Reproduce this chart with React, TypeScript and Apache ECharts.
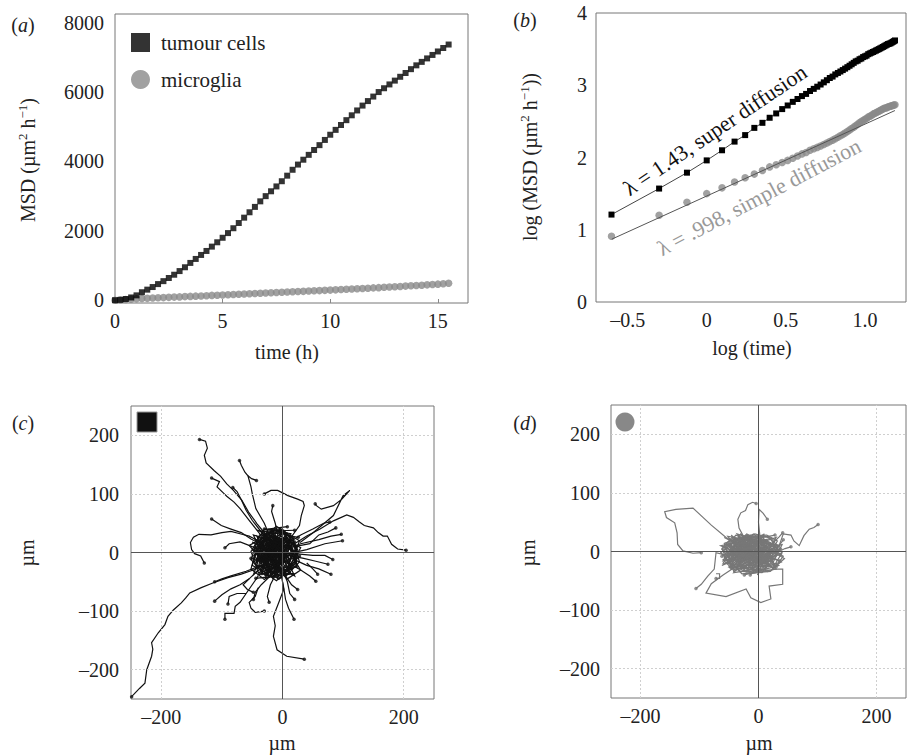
import React, { useEffect, useRef } from "react";
import * as echarts from "echarts";

// ---------- Panel (a): MSD vs time ----------
const times = [0, 0.25, 0.5, 0.75, 1, 1.25, 1.5, 1.75, 2, 2.25, 2.5, 2.75, 3, 3.25, 3.5, 3.75, 4, 4.25, 4.5, 4.75, 5, 5.25, 5.5, 5.75, 6, 6.25, 6.5, 6.75, 7, 7.25, 7.5, 7.75, 8, 8.25, 8.5, 8.75, 9, 9.25, 9.5, 9.75, 10, 10.25, 10.5, 10.75, 11, 11.25, 11.5, 11.75, 12, 12.25, 12.5, 12.75, 13, 13.25, 13.5, 13.75, 14, 14.25, 14.5, 14.75, 15, 15.25, 15.5];
const tumourMSD = [0, 10, 35, 80, 140, 230, 305, 380, 465, 550, 640, 735, 840, 950, 1075, 1190, 1305, 1420, 1545, 1670, 1800, 1935, 2075, 2225, 2380, 2535, 2690, 2850, 3000, 3140, 3280, 3430, 3590, 3760, 3910, 4050, 4190, 4330, 4470, 4620, 4770, 4910, 5050, 5190, 5330, 5470, 5610, 5740, 5870, 6000, 6110, 6220, 6330, 6440, 6550, 6660, 6770, 6870, 6970, 7070, 7170, 7270, 7370];
const microMSD = [0, 12, 22, 31, 40, 48, 54, 62, 69, 75, 83, 90, 96, 104, 110, 118, 124, 130, 139, 145, 152, 160, 166, 172, 181, 187, 193, 201, 208, 214, 222, 229, 235, 243, 250, 256, 264, 271, 277, 285, 292, 299, 308, 315, 324, 331, 340, 347, 356, 363, 372, 380, 389, 397, 407, 415, 425, 434, 443, 452, 463, 476, 490];
const aXTicks = [0, 5, 10, 15];
const aYTicks = [0, 2000, 4000, 6000, 8000];

// ---------- Panel (b): log-log ----------
const tumourLogMSD = [1.21, 1.57, 1.79, 1.96, 2.10, 2.22, 2.31, 2.41, 2.48, 2.55, 2.61, 2.67, 2.72, 2.77, 2.81, 2.85, 2.88, 2.92, 2.95, 2.98, 3.01, 3.04, 3.07, 3.10, 3.12, 3.15, 3.17, 3.19, 3.21, 3.23, 3.25, 3.27, 3.29, 3.31, 3.33, 3.34, 3.36, 3.37, 3.39, 3.40, 3.41, 3.43, 3.44, 3.45, 3.46, 3.47, 3.48, 3.49, 3.50, 3.51, 3.52, 3.53, 3.54, 3.55, 3.56, 3.57, 3.575, 3.58, 3.59, 3.60, 3.61, 3.62];
const microLogMSD = [0.91, 1.20, 1.38, 1.50, 1.58, 1.66, 1.72, 1.77, 1.82, 1.87, 1.90, 1.93, 1.96, 1.99, 2.02, 2.05, 2.07, 2.10, 2.12, 2.14, 2.16, 2.18, 2.20, 2.22, 2.24, 2.26, 2.28, 2.30, 2.32, 2.34, 2.36, 2.38, 2.40, 2.42, 2.44, 2.46, 2.48, 2.50, 2.51, 2.53, 2.54, 2.56, 2.57, 2.58, 2.60, 2.61, 2.62, 2.63, 2.64, 2.65, 2.66, 2.67, 2.68, 2.685, 2.69, 2.70, 2.705, 2.71, 2.715, 2.72, 2.725, 2.73];
const microFitX = [-0.6, 1.19];
const microFitY = [0.87, 2.65];
const bXTicks = [-0.5, 0, 0.5, 1];
const bYTicks = [0, 1, 2, 3, 4];

// ---------- Panels (c), (d): trajectories (µm) ----------
const trackTicksX = [-200, 0, 200];
const trackTicksY = [-200, -100, 0, 100, 200];
const gridX = [-200, 200];
const gridY = [-200, -100, 100, 200];

const tumourTracks: number[][][] = [
  [[-6, -4], [-26, -17], [-46, -29], [-68, -37], [-90, -43], [-115, -52], [-134, -60], [-153, -69], [-160, -78], [-167, -86], [-180, -98], [-189, -109], [-194, -123], [-205, -137], [-216, -154], [-214, -165], [-216, -177], [-224, -200], [-227, -223], [-236, -232], [-249, -246]],
  [[5, 8], [20, 15], [40, 28], [62, 40], [84, 54], [97, 60], [106, 64], [117, 60], [127, 52], [135, 46], [150, 42], [158, 34], [166, 28], [173, 28], [180, 14], [190, 6], [204, 4]],
  [[-9, 11], [-26, 29], [-42, 49], [-56, 69], [-67, 89], [-81, 106], [-92, 117], [-102, 130], [-113, 140], [-126, 153], [-129, 166], [-124, 178], [-127, 190], [-137, 193]],
  [[-12, 8], [-20, 25], [-30, 50], [-44, 75], [-50, 101], [-52, 112], [-57, 131], [-62, 137], [-68, 149], [-71, 157]],
  [[-57, 131], [-51, 126], [-43, 123]],
  [[29, 17], [51, 34], [68, 49], [84, 63], [92, 80], [100, 97], [111, 106], [98, 91], [84, 80], [64, 74], [56, 80], [54, 83]],
  [[-35, 14], [-52, 23], [-68, 34], [-85, 40], [-101, 46], [-117, 57]],
  [[-25, 12], [-40, 20], [-55, 28], [-70, 32], [-85, 36], [-100, 34], [-118, 30], [-138, 31], [-147, 26], [-152, 17], [-150, 5], [-145, -2], [-135, -6], [-133, -10], [-129, -18]],
  [[-25, 15], [-40, 35], [-55, 55], [-70, 75], [-80, 86], [-92, 96], [-96, 100], [-108, 112], [-104, 121], [-117, 127]],
  [[-20, 18], [-35, 35], [-50, 55], [-60, 72], [-68, 90], [-75, 104], [-82, 111]],
  [[10, 20], [28, 46], [31, 63], [36, 80], [34, 87], [25, 91], [9, 97], [-8, 106], [-19, 106], [-30, 100]],
  [[-8, 30], [-12, 50], [-18, 70], [-16, 80]],
  [[5, 5], [30, 15], [60, 22], [80, 28], [97, 31]],
  [[10, -2], [40, 5], [70, 15], [99, 20]],
  [[0, 10], [30, 30], [50, 40], [68, 50], [78, 52]],
  [[10, -5], [35, -10], [55, -15], [75, -20]],
  [[15, -10], [40, -22], [60, -28], [80, -37]],
  [[20, -2], [50, -5], [70, -5], [83, -12]],
  [[5, -15], [30, -30], [45, -40], [55, -49]],
  [[40, -18], [50, -28], [58, -37]],
  [[0, -20], [5, -40], [15, -55], [25, -63]],
  [[0, -30], [8, -50], [12, -70], [20, -80]],
  [[-2, -40], [2, -60], [5, -80], [10, -95], [19, -114]],
  [[0, -50], [2, -63], [-6, -85], [-15, -109], [-12, -125], [-15, -143], [-9, -166], [7, -177], [36, -182]],
  [[-40, -30], [-55, -45], [-70, -55], [-85, -62], [-100, -72], [-112, -83]],
  [[-40, -40], [-50, -55], [-60, -70], [-70, -85], [-78, -92], [-80, -104], [-95, -104], [-95, -114]],
  [[-40, -60], [-45, -75], [-55, -85], [-52, -95], [-45, -102], [-30, -100]],
  [[-60, -70], [-75, -70], [-88, -75], [-90, -88]],
  [[-55, -45], [-65, -55], [-58, -63], [-48, -68]],
  [[-20, -40], [-35, -55], [-45, -68], [-48, -80]],
  [[-10, -35], [-20, -55], [-25, -75], [-22, -85]],
  [[-30, -20], [-60, -32], [-85, -40], [-100, -45], [-112, -50]],
  [[20, 10], [45, 15], [60, 30], [75, 35], [88, 42]],
  [[-30, 5], [-50, 10], [-70, 18], [-88, 15], [-95, 8]],
  [[-8, 0], [-20, 12], [-5, 25], [10, 8], [-15, -10], [-30, 5], [-12, 30], [5, -15], [-25, -25], [-40, -5], [-18, 18], [0, 35], [15, 15], [-5, -30], [-35, 20]],
  [[-10, 5], [8, 20], [20, -5], [-2, -20], [-22, -8], [-38, 15], [-20, 35], [2, 12], [-15, -35], [-45, -20], [-28, 0], [12, 28], [25, 5], [0, -5], [-12, 22]],
  [[-5, -5], [-30, -15], [-15, 8], [-42, 28], [-25, -40], [8, -28], [18, 12], [-2, 38], [-30, 40], [-50, 5], [-20, -5], [5, 25], [22, -18], [-10, -48], [-35, -30]],
  [[0, 0], [15, -25], [-8, -42], [-28, -20], [-48, -38], [-38, -8], [-55, 12], [-32, 25], [-10, 45], [12, 30], [28, 20], [18, -10], [30, -30], [8, -45], [-18, -20]],
  [[-12, -2], [-2, 18], [-26, 22], [-18, -16], [6, -8], [-8, 12], [-35, -12], [-22, 6], [4, 4], [-14, -28], [-30, 32], [-6, -12], [14, 22], [-40, 10], [-4, 40]],
  [[-6, 8], [-16, -6], [6, -2], [-10, -20], [-24, 14], [-2, 28], [18, 2], [-20, -30], [-42, 0], [-8, -6], [10, -32], [-28, -44], [-12, 10], [-36, 36], [20, 38]],
  [[-15, 3], [-28, -30], [-6, -22], [12, -12], [-4, 6], [-22, -4], [-10, 26], [-32, 10], [-16, -12], [2, -38], [24, -2], [-8, 18], [-44, -18], [-24, 40], [8, 44]],
  [[-3, -10], [-18, 8], [-36, -4], [-14, -36], [14, -20], [30, 8], [10, 20], [-20, 2], [-46, 24], [-26, -12], [-4, 14], [-16, 38], [20, -40], [-2, -26], [-52, -10]],
  [[-20, -5], [-8, 10], [-28, 28], [-40, -26], [-12, -14], [6, 14], [-14, 4], [-30, -18], [-6, -4], [16, -6], [-24, 18], [-10, -26], [4, -14], [-18, 30], [-34, -36]],
  [[-10, -10], [-4, 2], [-18, -6], [-8, 16], [-26, 10], [-14, -22], [2, -4], [-12, 8], [-22, -14], [-2, -18], [8, 6], [-16, 20], [-30, -8], [-6, 26], [-20, -32]],
  [[-20, 10], [-38, -22], [-8, -38], [16, -28], [26, 0], [8, 32], [-24, 34], [-46, 12], [-30, -32], [2, -16], [-16, 24], [12, -2], [-36, -6], [-22, -42], [20, 18]],
  [[-14, -6], [-44, -14], [-26, 30], [4, 36], [22, -12], [-4, -44], [-40, -34], [-52, 2], [-32, 18], [-6, 2], [14, -36], [-18, -18], [-2, 22], [-42, 38], [26, 26]],
  [[-4, 4], [-24, -36], [-50, -22], [-36, 22], [-12, 40], [16, 26], [28, -16], [6, -40], [-20, -24], [-44, -2], [-26, 14], [0, -10], [-16, -44], [-48, 30], [10, 10]],
  [[-18, 0], [0, -32], [24, -24], [18, 24], [-8, 38], [-38, 30], [-52, -12], [-28, -40], [-4, -18], [-30, 8], [-10, -8], [8, 34], [-34, -24], [-6, -46], [28, -6]],
  [[-26, -8], [-6, -28], [-30, -46], [-52, -28], [-42, 10], [-20, 28], [6, 22], [24, 10], [10, -20], [-14, -4], [-36, 16], [-16, 36], [-2, -36], [20, -36], [-44, -44]],
  [[-8, -16], [-34, 2], [-20, -34], [10, -24], [18, 4], [-4, 30], [-28, 22], [-48, -6], [-18, 12], [6, -4], [-24, -12], [-40, -38], [-10, -32], [14, 32], [-30, 40]],
  [[-16, 14], [4, -6], [-22, -26], [-46, -8], [-28, 26], [-2, 12], [-12, -40], [12, -14], [-8, 26], [-38, -18], [-20, -2], [2, 38], [24, -26], [-50, 18], [-12, 0]],
  [[-2, 0], [-20, 20], [-40, -10], [-14, -24], [10, -8], [-6, 14], [-32, -28], [-24, 4], [-4, -12], [-34, 30], [16, 14], [-18, -38], [-44, 6], [0, 24], [-26, -18]],
];

const microTracks: number[][][] = [
  [[-20, 5], [-55, 24], [-80, 45], [-111, 74], [-140, 72], [-159, 68], [-156, 58], [-142, 49], [-138, 32], [-137, 12], [-128, 1], [-111, -3], [-97, -2]],
  [[-10, 10], [-25, 25], [-33, 40], [-35, 55], [-30, 66], [-22, 70], [-18, 80], [-10, 84], [-4, 82]],
  [[0, 10], [2, 30], [0, 50], [1, 72], [8, 65], [15, 55]],
  [[10, 0], [25, 5], [35, 10], [42, 30], [55, 28], [60, 18], [69, 10], [77, 27], [86, 38], [94, 41], [101, 46]],
  [[-40, -5], [-60, -5], [-72, -2], [-75, -30], [-86, -42], [-97, -56], [-106, -63]],
  [[-72, -38], [-66, -38], [-66, -46], [-72, -46]],
  [[-30, -20], [-60, -40], [-80, -55], [-89, -71], [-55, -77], [-21, -64], [-13, -79], [4, -87], [21, -81], [18, -59], [41, -56], [41, -30], [27, -30], [15, -20]],
  [[10, 5], [25, 15], [35, 25], [41, 32]],
  [[15, -5], [30, -2], [45, 5], [55, 8]],
  [[-10, 0], [-30, 12], [-50, -5], [-25, -20], [5, -8], [20, 15], [-5, 25], [-40, 18], [-60, 2], [-35, -30], [0, -25], [30, -5], [10, 20], [-20, 5], [-45, -15]],
  [[-5, -5], [15, -20], [35, 0], [20, 22], [-12, 15], [-38, 28], [-55, 10], [-48, -22], [-20, -35], [8, -30], [25, -18], [40, 12], [5, 5], [-28, -8], [-15, 22]],
  [[-20, 2], [-42, -8], [-30, 20], [-8, 30], [12, 10], [-2, -15], [-25, -28], [-52, -18], [-62, 5], [-44, 25], [-16, 8], [4, -22], [28, -28], [42, -8], [18, 4]],
  [[0, 0], [-18, -12], [-36, 8], [-58, -10], [-40, -32], [-10, -18], [16, -10], [32, 18], [14, 28], [-22, 26], [-48, 12], [-30, -4], [-6, 12], [22, -2], [-14, -40]],
  [[-15, -8], [6, 6], [-26, 14], [-44, 0], [-24, -14], [-2, -2], [-34, -22], [-12, 18], [10, -16], [-54, -4], [-20, 30], [26, 8], [-8, -28], [-46, 20], [36, -16]],
  [[-8, 4], [-22, -6], [2, -12], [-12, 24], [-32, 4], [-16, -24], [12, -4], [-4, 14], [-40, -12], [-28, 22], [18, -22], [-56, 14], [-6, -36], [30, 24], [-62, -8]],
  [[-12, -4], [-34, 14], [-14, -16], [8, 14], [-24, -30], [-46, 6], [-4, 20], [24, -12], [-30, -10], [-10, 6], [-50, -26], [14, -34], [-36, 30], [40, 4], [-18, -2]],
  [[-2, -8], [-28, -16], [-48, 8], [-18, 12], [10, 0], [-6, -22], [-38, -2], [-22, 24], [4, 26], [26, -24], [-44, -30], [-60, -14], [-26, 6], [-8, -30], [12, 18]],
  [[-20, -10], [-58, 8], [-40, -26], [10, -20], [38, 6], [14, 26], [-30, 24], [-64, -2], [-28, -38], [20, -34], [44, -12], [0, 14], [-48, -14], [-14, 28], [30, -26]],
  [[-6, 6], [-46, -4], [-22, -34], [24, -14], [8, 24], [-36, 16], [-60, -20], [-8, -24], [36, 10], [-18, 20], [-52, 26], [-26, -6], [16, -2], [-2, -40], [42, 20]],
  [[-30, 0], [-10, -30], [22, -32], [40, -2], [18, 16], [-20, 28], [-58, 14], [-42, -34], [2, -12], [-24, 10], [-50, -28], [12, 8], [-12, -14], [-64, 10], [28, 28]],
  [[-14, 12], [-54, -16], [-30, -34], [6, -36], [30, -8], [24, 22], [-6, 30], [-44, 8], [-20, -18], [12, -20], [-36, -10], [-4, -2], [-58, 24], [34, -24], [-24, -40]],
  [[-2, -14], [-28, 18], [-52, 0], [-34, -24], [-2, -34], [20, -4], [6, 28], [-26, -14], [-46, 28], [10, -26], [38, -18], [-16, 6], [-62, -24], [26, 14], [-40, 20]],
  [[-24, 6], [-6, -20], [-40, 4], [-16, 24], [14, -10], [-30, -28], [0, 18], [-56, -8], [-20, -6], [18, -24], [-10, 10], [-48, -30], [32, 2], [-34, 26], [4, -6]],
  [[8, 2], [-18, -28], [-46, -12], [-22, 16], [20, -18], [-8, -8], [-38, 22], [-62, 4], [-30, -20], [4, 22], [30, -30], [-14, -38], [-50, 14], [14, 14], [-26, 2]],
  [[-36, -4], [-12, 16], [16, -26], [-20, -22], [-48, 6], [2, 4], [-30, 30], [-60, -16], [22, 2], [-4, -30], [-42, -36], [10, 30], [-22, 8], [40, -4], [-8, -18]],
];

const SERIF = "Liberation Serif, Times New Roman, DejaVu Serif, serif";
const INK = "#222";
const GREY = "#8a8a8a";

const minusFmt = (v: number) => (v < 0 ? "\u2013" + Math.abs(v) : String(v));

function valueAxis(gridIndex: number, min: number, max: number, ticks: number[], position: string, opts: any = {}) {
  return {
    type: "value",
    gridIndex,
    position,
    min,
    max,
    axisLine: { show: false, onZero: false },
    axisTick: {
      show: opts.ticks !== false,
      inside: true,
      length: 4,
      customValues: ticks,
      lineStyle: { color: "#888" },
    },
    axisLabel: {
      customValues: ticks,
      fontFamily: SERIF,
      fontSize: 20,
      color: INK,
      margin: opts.margin ?? 10,
      formatter: opts.formatter ?? minusFmt,
    },
    splitLine: { show: false },
    minorTick: { show: false },
    minorSplitLine: { show: false },
    axisPointer: { show: false },
  };
}

const richBase = {
  n: { fontSize: 20, fontFamily: SERIF, fill: INK },
  s: { fontSize: 13, fontFamily: SERIF, fill: INK, padding: [0, 0, 11, 0] },
  i: { fontSize: 20, fontFamily: SERIF, fill: INK, fontStyle: "italic" },
};

function labelText(x: number, y: number, text: string, rotation = 0) {
  return {
    type: "text",
    x,
    y,
    rotation,
    silent: true,
    style: {
      text,
      fill: INK,
      align: "center",
      verticalAlign: "middle",
      fontFamily: SERIF,
      fontSize: 20,
      rich: richBase,
    },
  };
}

function gridLines() {
  return [
    ...gridX.map((v) => ({ xAxis: v, lineStyle: { type: [2, 2], color: "#cfcfcf", width: 1 } })),
    ...gridY.map((v) => ({ yAxis: v, lineStyle: { type: [2, 2], color: "#cfcfcf", width: 1 } })),
    { xAxis: 0, lineStyle: { type: "solid", color: "#555", width: 1 } },
    { yAxis: 0, lineStyle: { type: "solid", color: "#555", width: 1 } },
  ];
}

export default function App() {
  const ref = useRef<HTMLDivElement>(null);
  useEffect(() => {
    document.body.style.margin = "0";
    if (!ref.current) return;
    const chart = echarts.init(ref.current, null, { renderer: "svg" });
    const logTimes = times.slice(1).map((t) => Math.log10(t));

    const option: any = {
      animation: false,
      backgroundColor: "#fff",
      textStyle: { fontFamily: SERIF },
      grid: [
        { left: 115, top: 14, width: 353, height: 289, show: true, borderColor: "#777", borderWidth: 1 },
        { left: 596, top: 13, width: 310, height: 289, show: true, borderColor: "#777", borderWidth: 1 },
        { left: 131, top: 406, width: 303, height: 293, show: true, borderColor: "#777", borderWidth: 1 },
        { left: 611, top: 405, width: 295, height: 293, show: true, borderColor: "#777", borderWidth: 1 },
      ],
      xAxis: [
        valueAxis(0, 0, 16.4, aXTicks, "bottom", { margin: 8 }),
        valueAxis(1, -0.7, 1.26, bXTicks, "bottom", { margin: 8, ticks: false, formatter: (v: number) => (v < 0 ? "\u2013" + Math.abs(v) : v === 1 ? "1.0" : String(v)) }),
        valueAxis(2, -250, 250, trackTicksX, "bottom", { margin: 8, ticks: false }),
        valueAxis(3, -250, 250, trackTicksX, "bottom", { margin: 8, ticks: false }),
      ],
      yAxis: [
        valueAxis(0, -80, 8250, aYTicks, "left", { margin: 11, ticks: false }),
        valueAxis(1, 0, 4, bYTicks, "left", { margin: 9, ticks: false }),
        valueAxis(2, -250, 250, trackTicksY, "left", { margin: 12, ticks: false }),
        valueAxis(3, -250, 250, trackTicksY, "left", { margin: 11, ticks: false }),
      ],
      legend: {
        data: ["tumour cells", "microglia"],
        orient: "vertical",
        left: 126,
        top: 27,
        itemWidth: 19,
        itemHeight: 19,
        itemGap: 16,
        selectedMode: false,
        textStyle: { fontFamily: SERIF, fontSize: 21, color: INK, padding: [0, 0, 0, 6] },
      },
      series: [
        {
          name: "tumour cells",
          type: "scatter",
          xAxisIndex: 0,
          yAxisIndex: 0,
          symbol: "rect",
          symbolSize: 6,
          itemStyle: { color: "#000" },
          data: times.map((t, i) => [t, tumourMSD[i]]),
          z: 3,
        },
        {
          name: "microglia",
          type: "scatter",
          xAxisIndex: 0,
          yAxisIndex: 0,
          symbol: "circle",
          symbolSize: 7.5,
          itemStyle: { color: GREY },
          data: times.map((t, i) => [t, microMSD[i]]),
          z: 2,
        },
        {
          name: "tumour log",
          type: "line",
          xAxisIndex: 1,
          yAxisIndex: 1,
          symbol: "rect",
          symbolSize: 6,
          showSymbol: true,
          itemStyle: { color: "#000" },
          lineStyle: { color: "#444", width: 1 },
          data: logTimes.map((x, i) => [x, tumourLogMSD[i]]),
          z: 3,
        },
        {
          name: "microglia log",
          type: "scatter",
          xAxisIndex: 1,
          yAxisIndex: 1,
          symbol: "circle",
          symbolSize: 7.5,
          itemStyle: { color: GREY },
          data: logTimes.map((x, i) => [x, microLogMSD[i]]),
          z: 2,
        },
        {
          name: "microglia fit",
          type: "line",
          xAxisIndex: 1,
          yAxisIndex: 1,
          symbol: "none",
          lineStyle: { color: "#555", width: 1 },
          data: microFitX.map((x, i) => [x, microFitY[i]]),
          z: 4,
        },
        {
          name: "tumour ends",
          type: "scatter",
          xAxisIndex: 2,
          yAxisIndex: 2,
          symbol: "circle",
          symbolSize: 3.5,
          itemStyle: { color: "#111" },
          data: tumourTracks.map((t) => t[t.length - 1]),
          markLine: { silent: true, symbol: ["none", "none"], label: { show: false }, data: gridLines() },
          z: 1,
        },
        {
          name: "tumour tracks",
          type: "lines",
          coordinateSystem: "cartesian2d",
          xAxisIndex: 2,
          yAxisIndex: 2,
          polyline: true,
          silent: true,
          lineStyle: { color: "#111", width: 1.2, opacity: 1 },
          data: tumourTracks.map((t) => ({ coords: t })),
          z: 2,
        },
        {
          name: "microglia ends",
          type: "scatter",
          xAxisIndex: 3,
          yAxisIndex: 3,
          symbol: "circle",
          symbolSize: 3.5,
          itemStyle: { color: "#777" },
          data: microTracks.map((t) => t[t.length - 1]),
          markLine: { silent: true, symbol: ["none", "none"], label: { show: false }, data: gridLines() },
          z: 1,
        },
        {
          name: "microglia tracks",
          type: "lines",
          coordinateSystem: "cartesian2d",
          xAxisIndex: 3,
          yAxisIndex: 3,
          polyline: true,
          silent: true,
          lineStyle: { color: "#777", width: 1.2, opacity: 1 },
          data: microTracks.map((t) => ({ coords: t })),
          z: 2,
        },
      ],
      graphic: [
        labelText(23, 25, "{n|(}{i|a}{n|)}"),
        labelText(525, 20, "{n|(}{i|b}{n|)}"),
        labelText(23, 423, "{n|(}{i|c}{n|)}"),
        labelText(525, 423, "{n|(}{i|d}{n|)}"),
        labelText(28, 160, "{n|MSD (µm}{s|2}{n| h}{s|\u22121}{n|)}", Math.PI / 2),
        labelText(287, 352, "{n|time (h)}"),
        labelText(530, 157, "{n|log (MSD (µm}{s|2}{n| h}{s|\u22121}{n|))}", Math.PI / 2),
        labelText(752, 348, "{n|log (time)}"),
        labelText(27, 553, "{n|µm}", Math.PI / 2),
        labelText(282, 743, "{n|µm}"),
        labelText(528, 553, "{n|µm}", Math.PI / 2),
        labelText(759, 743, "{n|µm}"),
        {
          type: "text",
          x: 715,
          y: 130,
          rotation: (34 * Math.PI) / 180,
          silent: true,
          style: { text: "\u03bb = 1.43, super diffusion", fill: "#111", align: "center", verticalAlign: "middle", fontFamily: SERIF, fontSize: 22 },
        },
        {
          type: "text",
          x: 759,
          y: 197,
          rotation: (27.8 * Math.PI) / 180,
          silent: true,
          style: { text: "\u03bb = .998, simple diffusion", fill: "#999", align: "center", verticalAlign: "middle", fontFamily: SERIF, fontSize: 22 },
        },
        { type: "rect", shape: { x: 137, y: 412, width: 20, height: 20 }, style: { fill: "#111", stroke: "#999", lineWidth: 1 }, silent: true },
        { type: "circle", shape: { cx: 625, cy: 422, r: 9.5 }, style: { fill: "#888" }, silent: true },
      ],
    };
    chart.setOption(option);
    return () => chart.dispose();
  }, []);
  return <div ref={ref} style={{ width: 907, height: 755 }} />;
}
